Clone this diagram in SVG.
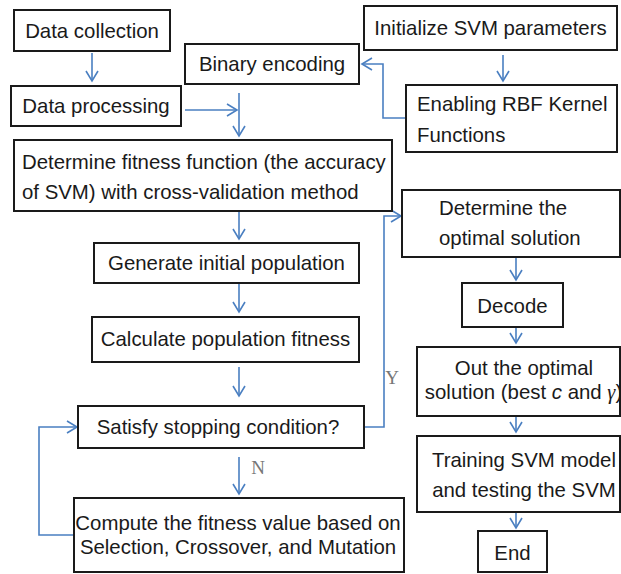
<svg xmlns="http://www.w3.org/2000/svg" width="621" height="574" viewBox="0 0 621 574">
<style>
.box{fill:#fff;stroke:#1a1a1a;stroke-width:2}
.t{font-family:"Liberation Sans",Arial,sans-serif;font-size:20.4px;fill:#1a1a1a;dominant-baseline:central}
.c{text-anchor:middle}
.e{fill:none;stroke:#4a7fc1;stroke-width:1.6}
.lab{font-family:"Liberation Serif","Times New Roman",serif;font-size:19px;fill:#777;text-anchor:middle;dominant-baseline:central}
</style>
<defs>
<marker id="ah" markerUnits="userSpaceOnUse" markerWidth="14" markerHeight="14" viewBox="0 0 14 14" refX="12" refY="7" orient="auto">
<path d="M2,1 L12,7 L2,13" fill="none" stroke="#4a7fc1" stroke-width="1.6"/>
</marker>
</defs>
<g id="connectors">
<path class="e" d="M92,53 V81" marker-end="url(#ah)"/>
<path class="e" d="M503,55 V81" marker-end="url(#ah)"/>
<path class="e" d="M406,118 H383 V64 H362" marker-end="url(#ah)"/>
<path class="e" d="M185,110 H237" marker-end="url(#ah)"/>
<path class="e" d="M239,93 V136" marker-end="url(#ah)"/>
<path class="e" d="M239,211 V239" marker-end="url(#ah)"/>
<path class="e" d="M239,283 V312" marker-end="url(#ah)"/>
<path class="e" d="M239,367 V396" marker-end="url(#ah)"/>
<path class="e" d="M239,457 V494" marker-end="url(#ah)"/>
<path class="e" d="M74,535 H39 V427 H77" marker-end="url(#ah)"/>
<path class="e" d="M364,427 H384 V216 H401" marker-end="url(#ah)"/>
<path class="e" d="M516,257 V280" marker-end="url(#ah)"/>
<path class="e" d="M516,327 V343" marker-end="url(#ah)"/>
<path class="e" d="M516,416 V432" marker-end="url(#ah)"/>
<path class="e" d="M516,512 V528" marker-end="url(#ah)"/>
<text class="lab" x="392" y="377">Y</text>
<text class="lab" x="258" y="467">N</text>
</g>
<g id="data-collection"><rect class="box" x="14" y="10" width="156" height="41"/><text class="t c" x="92" y="30.5">Data collection</text></g>
<g id="binary-encoding"><rect class="box" x="185" y="44" width="174" height="40"/><text class="t c" x="272" y="64">Binary encoding</text></g>
<g id="data-processing"><rect class="box" x="11" y="86" width="170" height="40"/><text class="t c" x="96" y="106">Data processing</text></g>
<g id="init-svm"><rect class="box" x="364" y="6" width="253" height="44"/><text class="t c" x="490.5" y="28">Initialize SVM parameters</text></g>
<g id="enable-rbf"><rect class="box" x="406" y="85" width="211" height="67"/><text class="t" x="417" y="104">Enabling RBF Kernel</text><text class="t" x="417" y="135">Functions</text></g>
<g id="fitness-function"><rect class="box" x="14" y="140" width="378" height="71"/><text class="t" x="22" y="162">Determine fitness function (the accuracy</text><text class="t" x="22" y="192">of SVM) with cross-validation method</text></g>
<g id="generate-pop"><rect class="box" x="94" y="243" width="265" height="40"/><text class="t c" x="226.5" y="263">Generate initial population</text></g>
<g id="calc-fitness"><rect class="box" x="92" y="317" width="267" height="45"/><text class="t c" x="225.5" y="339">Calculate population fitness</text></g>
<g id="stopping"><rect class="box" x="78" y="406" width="286" height="42"/><text class="t c" x="218" y="427">Satisfy stopping condition?</text></g>
<g id="compute"><rect class="box" x="74" y="498" width="330" height="74"/><text class="t c" x="238" y="523">Compute the fitness value based on</text><text class="t c" x="238" y="547">Selection, Crossover, and Mutation</text></g>
<g id="optimal"><rect class="box" x="402" y="190" width="218" height="67"/><text class="t" x="439" y="208">Determine the</text><text class="t" x="439" y="238">optimal solution</text></g>
<g id="decode"><rect class="box" x="462" y="283" width="101" height="44"/><text class="t c" x="512.5" y="306">Decode</text></g>
<g id="out-optimal"><rect class="box" x="417" y="347" width="203" height="69"/><text class="t c" x="524" y="368">Out the optimal</text><text class="t c" x="523.5" y="392">solution (best <tspan font-style="italic">c</tspan> and <tspan font-family="'Liberation Serif',serif" font-style="italic">γ</tspan>)</text></g>
<g id="training"><rect class="box" x="417" y="436" width="203" height="76"/><text class="t c" x="524" y="460">Training SVM model</text><text class="t c" x="524" y="490">and testing the SVM</text></g>
<g id="end"><rect class="box" x="478" y="531" width="69" height="41"/><text class="t c" x="512.5" y="553">End</text></g>
</svg>
